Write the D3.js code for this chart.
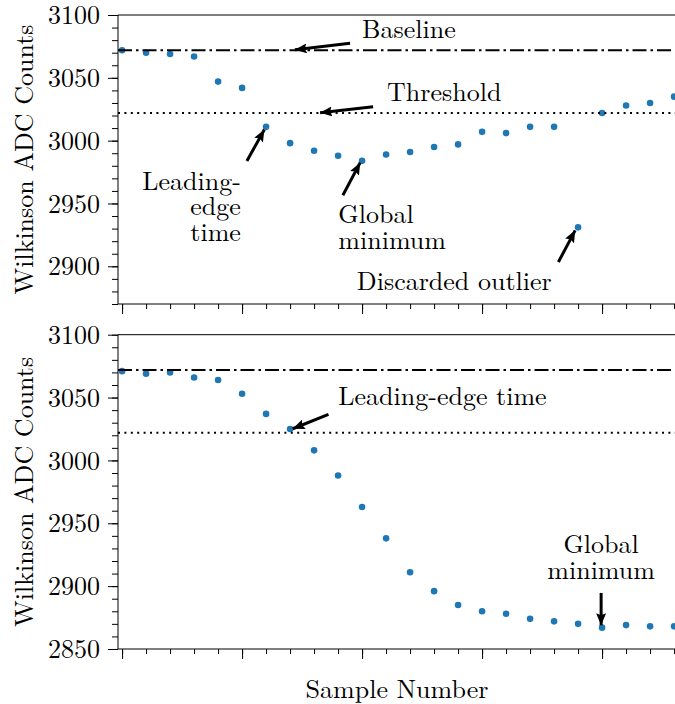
<!DOCTYPE html>
<html>
<head>
<meta charset="utf-8">
<script src="https://cdn.jsdelivr.net/npm/d3@7"></script>
</head>
<body style="margin:0; background:#fff">
<div id="chart"></div>
<script>
// Sample indices (shared x axis)
const samples = d3.range(24);

// Top panel: waveform with a discarded outlier
const topCounts = [3072, 3070, 3069, 3067, 3047, 3042, 3011, 2998, 2992, 2988,
    2984, 2989, 2991, 2995, 2997, 3007, 3006, 3011, 3011, 2931,
    3022, 3028, 3030, 3035];

// Bottom panel: clean waveform
const bottomCounts = [3071, 3069, 3070, 3066, 3064, 3053, 3037, 3025, 3008, 2988,
    2963, 2938, 2911, 2896, 2885, 2880, 2878, 2874, 2872, 2870,
    2867, 2869, 2868, 2868];

const baseline = 3072;
const threshold = 3022;

const topTicks = [2900, 2950, 3000, 3050, 3100];
const bottomTicks = [2850, 2900, 2950, 3000, 3050, 3100];

// Annotations in data units: text anchor, arrow tail and arrow tip
const topNotes = [
    { lines: ["Baseline"], x: 10, y: 3082, anchor: "start", tail: [9.5, 3077.5], tip: [7.2, 3072.3] },
    { lines: ["Threshold"], x: 11.04, y: 3031.3, anchor: "start", tail: [10.46, 3027], tip: [8.25, 3022.2] },
    { lines: ["Leading-", "edge", "time"], x: 4.95, y: 2961, anchor: "end", tail: [5.2, 2983.8], tip: [5.93, 3008.8] },
    { lines: ["Global", "minimum"], x: 9.01, y: 2934.4, anchor: "start", tail: [9.2, 2956.5], tip: [9.92, 2982.5] },
    { lines: ["Discarded outlier"], x: 9.78, y: 2881.4, anchor: "start", tail: [18.18, 2903.4], tip: [18.88, 2928.6] }
];
const bottomNotes = [
    { lines: ["Leading-edge time"], x: 9.01, y: 3044, anchor: "start", tail: [8.6, 3036.6], tip: [7.11, 3025.2] },
    { lines: ["Global", "minimum"], x: 19.96, y: 2926, anchor: "middle", tail: [19.96, 2894.6], tip: [19.96, 2868.9] }
];

const width = 675;
const height = 704;
const font = "Latin Modern Roman";
const fontSize = "26px";

const svg = d3.select("#chart")
    .append("svg")
    .attr("width", width)
    .attr("height", height)
    .attr("font-family", font);

// Arrowhead marker
svg.append("defs")
    .append("marker")
    .attr("id", "head")
    .attr("viewBox", "0 0 12 10")
    .attr("refX", 12)
    .attr("refY", 5)
    .attr("markerUnits", "userSpaceOnUse")
    .attr("markerWidth", 12)
    .attr("markerHeight", 10)
    .attr("orient", "auto")
    .append("path")
    .attr("d", "M0,0 L12,5 L0,10 L2,5 Z")
    .attr("fill", "#000");

const xScale = d3.scaleLinear()
    .domain([-0.17, 23.08])
    .range([118, 676]);

function drawPanel(counts, yDomain, yTop, yBottom, ticks, notes) {
    const yScale = d3.scaleLinear()
        .domain(yDomain)
        .range([yBottom, yTop]);

    const g = svg.append("g");
    const right = xScale.range()[1];

    // Frame (left, top, bottom spines)
    g.append("path")
        .attr("d", `M${right},${yTop}H118V${yBottom}H${right}`)
        .attr("fill", "none")
        .attr("stroke", "#000")
        .attr("stroke-width", 1);

    // Y axis: major ticks with labels, minor ticks every 10
    const yAxis = g.append("g")
        .attr("transform", "translate(118,0)")
        .call(d3.axisLeft(yScale).tickValues(ticks).tickSize(10).tickPadding(8).tickFormat(d3.format("d")))
        .call((a) => a.select(".domain").remove());
    yAxis.selectAll("text")
        .attr("font-family", font)
        .attr("font-size", fontSize)
        .attr("fill", "#000")
        .attr("dy", "0.33em");

    g.append("g")
        .attr("transform", "translate(118,0)")
        .call(d3.axisLeft(yScale).tickValues(d3.range(yDomain[0], yDomain[1] + 1, 10)).tickSize(6).tickFormat(""))
        .call((a) => a.select(".domain").remove());

    // X axis: unlabeled major ticks every 5, minor ticks every sample
    g.append("g")
        .attr("transform", `translate(0,${yBottom})`)
        .call(d3.axisBottom(xScale).tickValues([0, 5, 10, 15, 20]).tickSize(10).tickFormat(""))
        .call((a) => a.select(".domain").remove());
    g.append("g")
        .attr("transform", `translate(0,${yBottom})`)
        .call(d3.axisBottom(xScale).tickValues(samples).tickSize(5).tickFormat(""))
        .call((a) => a.select(".domain").remove());

    g.selectAll(".tick line").attr("stroke-width", 1);

    // Samples
    g.selectAll(".pt")
        .data(counts)
        .join("circle")
        .attr("class", "pt")
        .attr("cx", (d, i) => xScale(samples[i]))
        .attr("cy", (d) => yScale(d))
        .attr("r", 3.3)
        .attr("fill", "#1f77b4");

    // Baseline and threshold lines (drawn on top of points)
    g.append("line")
        .attr("x1", 118).attr("x2", right)
        .attr("y1", yScale(baseline)).attr("y2", yScale(baseline))
        .attr("stroke", "#000")
        .attr("stroke-width", 2)
        .attr("stroke-dasharray", "14,4,2.5,4");
    g.append("line")
        .attr("x1", 118).attr("x2", right)
        .attr("y1", yScale(threshold)).attr("y2", yScale(threshold))
        .attr("stroke", "#000")
        .attr("stroke-width", 2)
        .attr("stroke-dasharray", "2,4.4");

    // Annotation arrows
    g.selectAll(".arrow")
        .data(notes)
        .join("line")
        .attr("class", "arrow")
        .attr("x1", (d) => xScale(d.tail[0]))
        .attr("y1", (d) => yScale(d.tail[1]))
        .attr("x2", (d) => xScale(d.tip[0]))
        .attr("y2", (d) => yScale(d.tip[1]))
        .attr("stroke", "#000")
        .attr("stroke-width", 3)
        .attr("marker-end", "url(#head)");

    // Annotation texts (one text element per line)
    notes.forEach((n) => {
        n.lines.forEach((line, i) => {
            g.append("text")
                .attr("x", xScale(n.x))
                .attr("y", yScale(n.y) + i * 25.8)
                .attr("text-anchor", n.anchor)
                .attr("font-size", fontSize)
                .text(line);
        });
    });

    // Y axis label
    g.append("text")
        .attr("transform", `translate(33,${(yTop + yBottom) / 2}) rotate(-90)`)
        .attr("text-anchor", "middle")
        .attr("font-size", fontSize)
        .text("Wilkinson ADC Counts");
}

drawPanel(topCounts, [2870, 3100], 15, 304, topTicks, topNotes);
drawPanel(bottomCounts, [2850, 3100], 334.7, 649, bottomTicks, bottomNotes);

// Shared x axis label
svg.append("text")
    .attr("x", d3.mean(xScale.range()))
    .attr("y", 698)
    .attr("text-anchor", "middle")
    .attr("font-size", fontSize)
    .text("Sample Number");
</script>
</body>
</html>
